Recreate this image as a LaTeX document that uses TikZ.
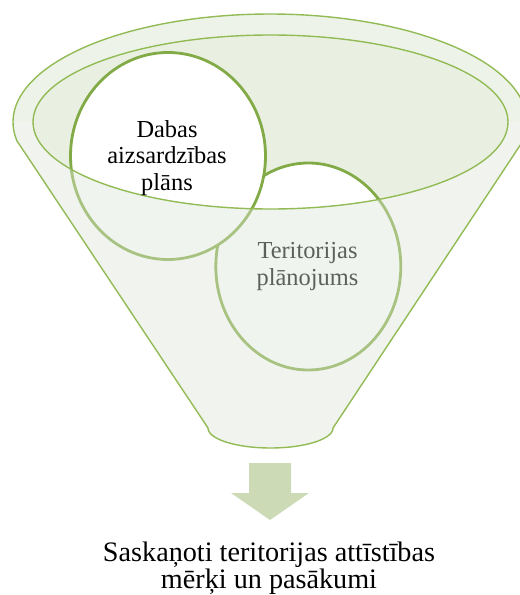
\documentclass[tikz,border=0pt]{standalone}
\usepackage{fontspec}
\setmainfont{Liberation Serif}
\usetikzlibrary{shapes.geometric}
\definecolor{rimc}{RGB}{238,243,233}
\definecolor{holec}{RGB}{233,240,226}
\definecolor{edgec}{RGB}{146,187,85}
\definecolor{ringc}{RGB}{130,170,70}
\definecolor{veilc}{RGB}{221,229,215}
\definecolor{arrowc}{RGB}{204,219,181}
\begin{document}
\begin{tikzpicture}[x=1bp,y=-1bp,
  circbox/.style={ellipse, draw=ringc, line width=2.8bp, fill=white, inner sep=0pt},
  lblsmall/.style={font=\fontsize{24.5}{26.5}\selectfont, align=center, inner sep=0pt, anchor=base},
  lblbig/.style={font=\fontsize{28.3}{27}\selectfont, align=center, inner sep=0pt, anchor=base},
  outline/.style={draw=edgec, line width=1.4bp, line join=round},
  funnelp/.style={insert path={plot[domain=170:370,samples=120] ({270+257*cos(\x)},{122+108*sin(\x)}) -- (333,428) -- plot[domain=0:180,samples=50] ({270.5+62.5*cos(\x)},{428+20*sin(\x)}) -- cycle}},
  lowerp/.style={insert path={-- plot[domain=180:0,samples=100] ({270.5+237.5*cos(\x)},{122+87*sin(\x)})}}]
\useasboundingbox (0,0) rectangle (520,595);
% back rim
\begin{scope}
  \clip (-20,122) [lowerp] -- (560,122) -- (560,-20) -- (-20,-20) -- cycle;
  \fill[rimc, funnelp];
\end{scope}
\fill[holec] (270.5,122) ellipse [x radius=237.5, y radius=87];
% circles
\node[circbox, minimum width=185bp, minimum height=207bp] (c2) at (308.3,266.5) {};
\node[lblsmall] (t2) at (307.5,285) {Teritorijas\\plānojums};
\node[circbox, minimum width=195bp, minimum height=207bp] (c1) at (168,156) {};
% front veil
\begin{scope}
  \clip[funnelp];
  \fill[veilc, fill opacity=0.42] (-20,122) [lowerp] -- (560,122) -- (560,620) -- (-20,620) -- cycle;
\end{scope}
% outlines
\draw[outline] (270.5,122) ellipse [x radius=237.5, y radius=87];
\draw[outline, funnelp];
\node[lblsmall] (t1) at (167,190) {Dabas\\aizsardzības\\plāns};
% arrow
\fill[arrowc] (249,463) -- (291,463) -- (291,493) -- (309,493) -- (270,520) -- (231,493) -- (249,493) -- cycle;
\node[lblbig] (t3) at (269,588) {Saskaņoti teritorijas attīstības\\mērķi un pasākumi};
\end{tikzpicture}
\end{document}
